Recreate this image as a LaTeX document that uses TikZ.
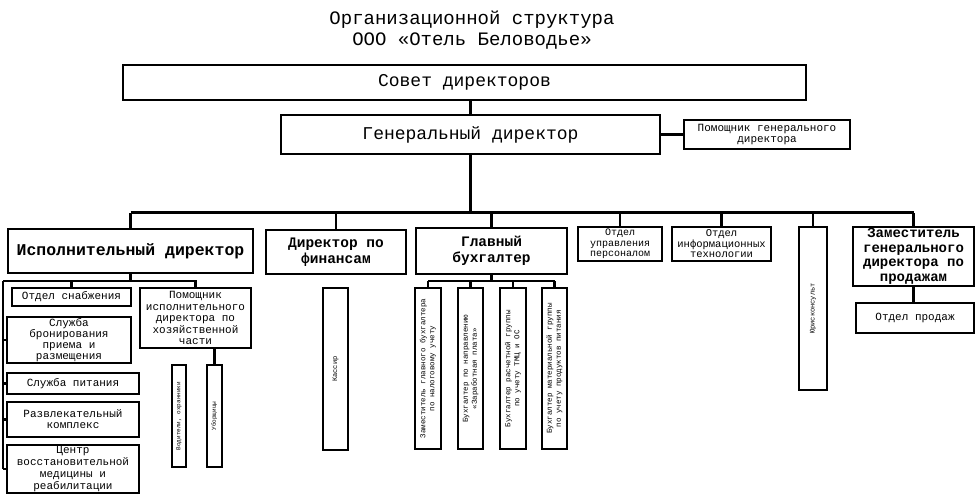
\documentclass[tikz,border=0pt]{standalone}
\usepackage{fontspec}
\setmainfont{Liberation Mono}
\usepackage{graphicx}
\usetikzlibrary{calc}
% text turned up the box
\newcommand{\vtxt}[1]{\rotatebox{90}{\begin{tabular}{@{}c@{}}#1\end{tabular}}}

\begin{document}
\begin{tikzpicture}[x=1pt,y=-1pt]
\tikzset{bx/.style={draw,line width=2.2pt,inner sep=0pt,align=center,font=\fontsize{11}{11}\selectfont},
 bxm/.style={bx,line width=2.8pt,font=\fontsize{18}{20}\selectfont},
 bxb/.style={bx,line width=2.8pt,font=\fontsize{14.5}{16}\selectfont\bfseries},
 vbx/.style={draw,line width=1.8pt,inner sep=0pt,font=\fontsize{7.5}{9}\selectfont},
 ln/.style={line width=2.3pt}}
\useasboundingbox (0,0) rectangle (976,494);
\node[font=\fontsize{19}{21}\selectfont,align=center] (title) at (472,30) {Организационной структура\\ООО «Отель Беловодье»};
% top
\node[bxm,minimum width=683,minimum height=35] (sovet) at (464.5,82.5) {Совет директоров};
\node[bxm,minimum width=379,minimum height=39] (gendir) at (470.5,134.5) {Генеральный директор};
\node[bx,minimum width=166,minimum height=29] (pomgd) at (767,134.5) {Помощник генерального\\директора};
% second row
\node[bxb,font=\fontsize{16.5}{18}\selectfont\bfseries,minimum width=245,minimum height=44] (ispdir) at (130.5,251) {Исполнительный директор};
\node[bxb,minimum width=140,minimum height=44] (findir) at (336,252) {Директор по\\финансам};
\node[bxb,minimum width=151,minimum height=46] (glbuh) at (491.5,251) {Главный\\бухгалтер};
\node[bx,font=\fontsize{10}{10.5}\selectfont,minimum width=84,minimum height=34] (otdpers) at (620,244) {Отдел\\управления\\персоналом};
\node[bx,font=\fontsize{10.5}{10.5}\selectfont,minimum width=99,minimum height=34] (otdit) at (721.5,244) {Отдел\\информационных\\технологии};
\node[vbx,font=\fontsize{7}{8}\selectfont,minimum width=28,minimum height=163] (yurist) at (813,308.5) {\vtxt{Юрисконсульт}};
\node[bxb,font=\fontsize{14}{14.5}\selectfont\bfseries,minimum width=121,minimum height=59] (zamgen) at (913.5,256.5) {Заместитель\\генерального\\директора по\\продажам};
\node[bx,minimum width=118,minimum height=30] (otdprod) at (915,318) {Отдел продаж};
% executive director branch
\node[bx,minimum width=119,minimum height=18] (snab) at (71.5,297) {Отдел снабжения};
\node[bx,minimum width=124,minimum height=46] (bron) at (69,340) {Служба\\бронирования\\приема и\\размещения};
\node[bx,minimum width=132,minimum height=21] (pitan) at (73,383.5) {Служба питания};
\node[bx,minimum width=132,minimum height=35] (razvl) at (73,419.5) {Развлекательный\\комплекс};
\node[bx,font=\fontsize{11}{12}\selectfont,minimum width=132,minimum height=48] (centr) at (73,469) {Центр\\восстановительной\\медицины и\\реабилитации};
\node[bx,font=\fontsize{11}{11.5}\selectfont,minimum width=111,minimum height=60] (pomisp) at (195.5,318) {Помощник\\исполнительного\\директора по\\хозяйственной\\части};
\node[vbx,font=\fontsize{6}{7}\selectfont,minimum width=14,minimum height=102] (hoz1) at (179,416) {\vtxt{Водители, охранники}};
\node[vbx,font=\fontsize{6}{7}\selectfont,minimum width=15,minimum height=102] (hoz2) at (214.5,416) {\vtxt{Уборщицы}};
% finance and accounting
\node[vbx,font=\fontsize{7}{8}\selectfont,minimum width=25,minimum height=162] (kassa) at (335.5,369) {\vtxt{Кассир}};
\node[vbx,minimum width=26,minimum height=161] (buh1) at (428,368.5) {\vtxt{Заместитель главного бухгалтера\\по налоговому учету}};
\node[vbx,minimum width=25,minimum height=161] (buh2) at (470.5,368.5) {\vtxt{Бухгалтер по направлению\\«Заработная плата»}};
\node[vbx,minimum width=26,minimum height=161] (buh3) at (513,368.5) {\vtxt{Бухгалтер расчетной группы\\по учету ТМЦ и ОС}};
\node[vbx,minimum width=25,minimum height=161] (buh4) at (554.5,368.5) {\vtxt{Бухгалтер материальной группы\\по учету продуктов питания}};
% connectors
\draw[ln] (gendir.north |- sovet.south) -- (gendir.north);
\draw[ln] (gendir.east) -- (pomgd.west);
\coordinate (busL) at ($(ispdir.north)+(0,-15)$);
\coordinate (busR) at (zamgen.north |- busL);
\draw[ln] (gendir.south) -- (gendir.south |- busL);
\draw[ln] (busL) -- (busR);
\foreach \n in {ispdir,findir,glbuh,otdpers,otdit,yurist,zamgen}
 \draw[ln] (\n.north) -- (\n.north |- busL);
\draw[ln] (zamgen.south) -- (zamgen.south |- otdprod.north);
\coordinate (ibus) at (3,281);
\draw[ln] (ispdir.south) -- (ispdir.south |- ibus);
\draw[ln] (ibus) -- (pomisp.north |- ibus) -- (pomisp.north);
\draw[ln] (snab.north) -- (snab.north |- ibus);
\draw[ln] (ibus) -- (ibus |- centr.west);
\foreach \n in {bron,pitan,razvl,centr}
 \draw[ln] (ibus |- \n.west) -- (\n.west);
\draw[ln] (hoz2.north |- pomisp.south) -- (hoz2.north);
\coordinate (gbus) at (491.5,281);
\draw[ln] (glbuh.south) -- (gbus);
\draw[ln] (buh1.north |- gbus) -- (buh4.north |- gbus);
\foreach \n in {buh1,buh2,buh3,buh4}
 \draw[ln] (\n.north) -- (\n.north |- gbus);
\end{tikzpicture}
\end{document}
